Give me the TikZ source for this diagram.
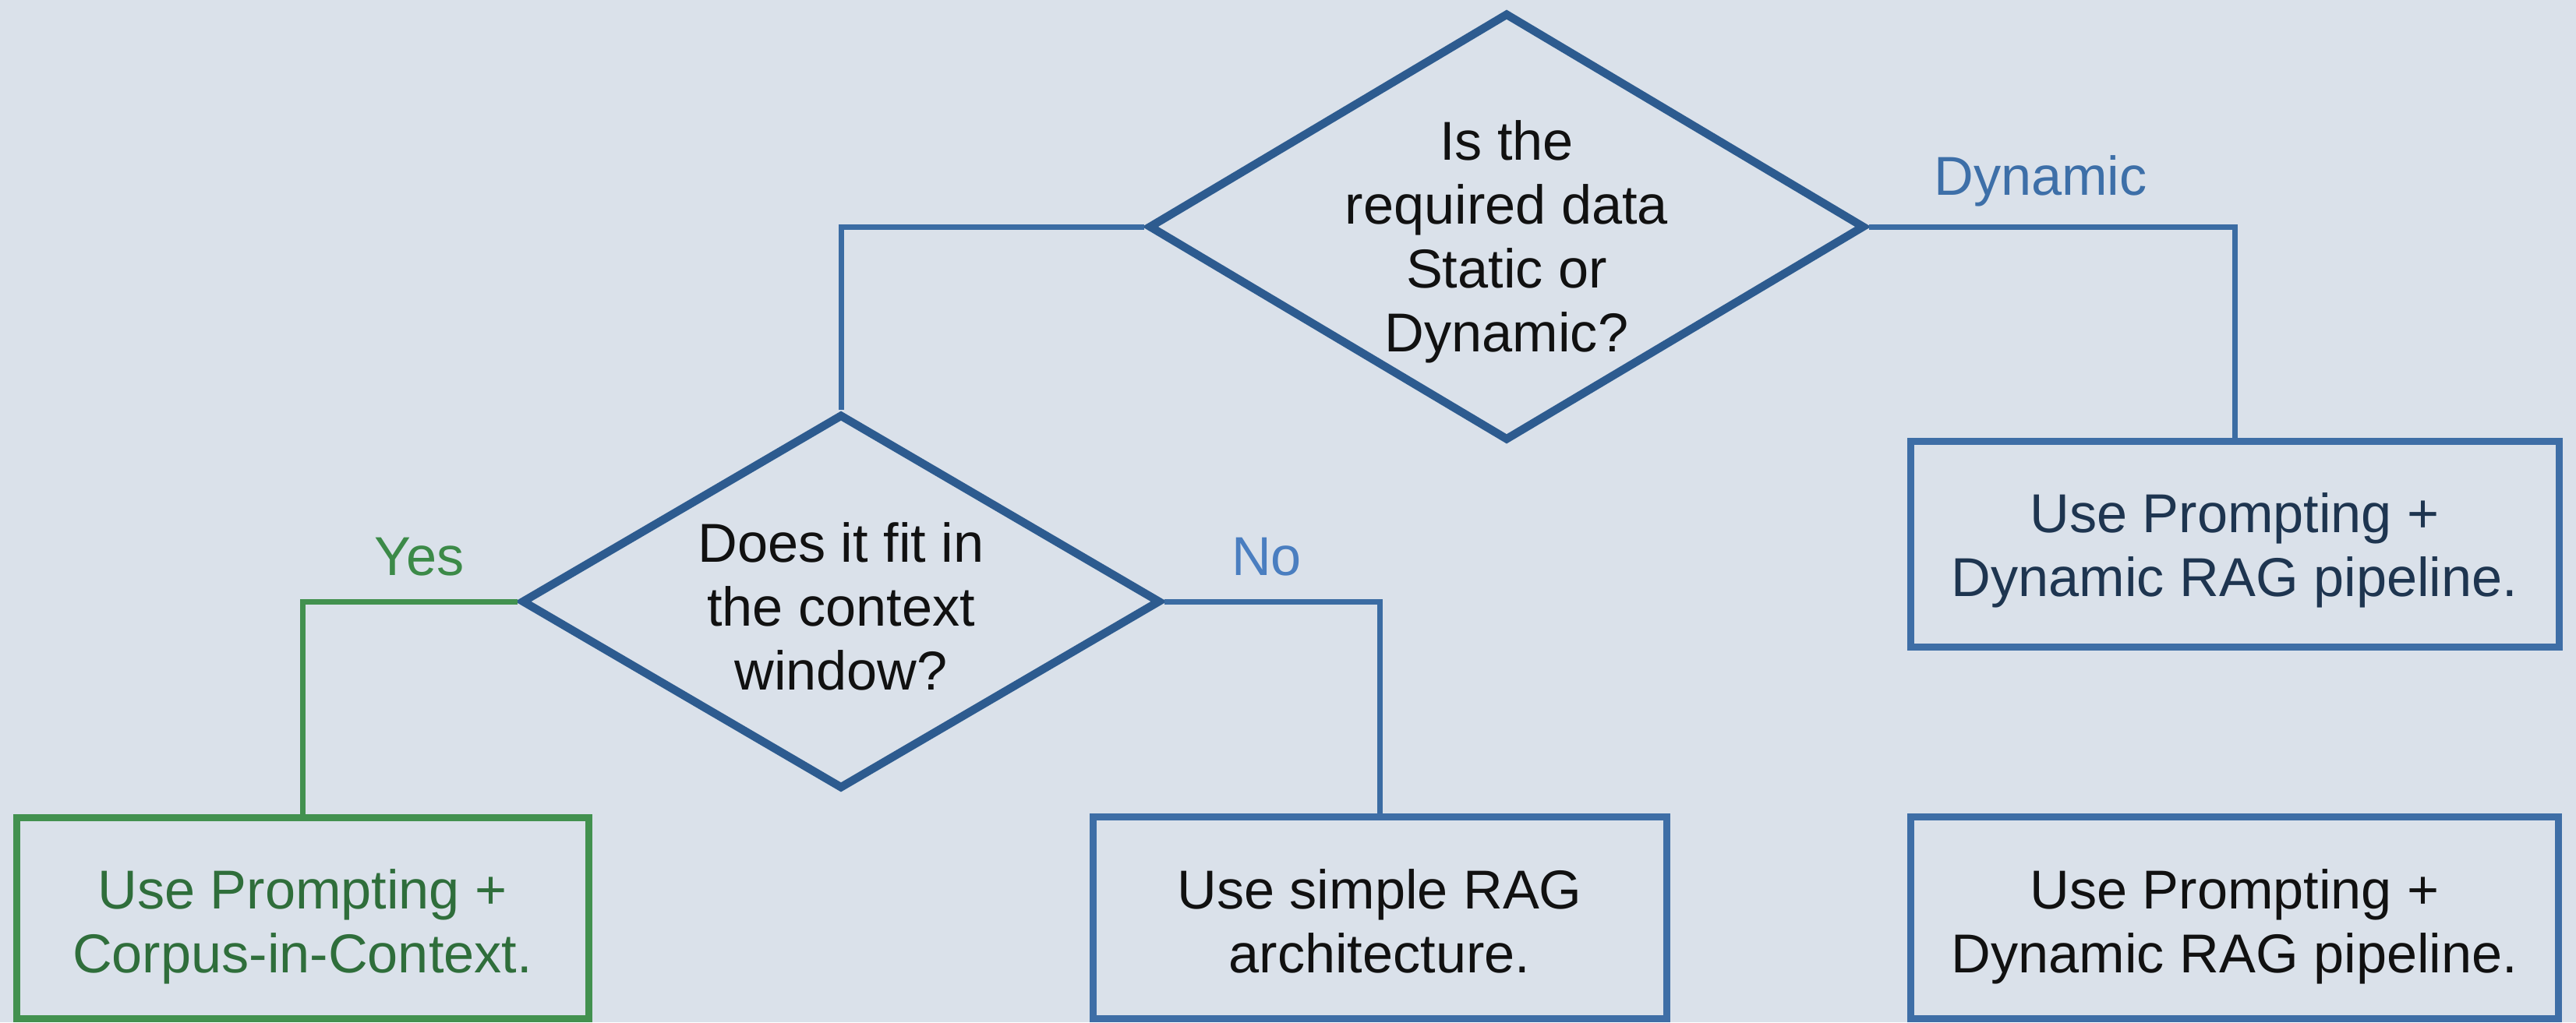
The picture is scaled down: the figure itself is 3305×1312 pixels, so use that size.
\documentclass[tikz,border=0pt]{standalone}
\usepackage{fontspec}
\setmainfont{Liberation Sans}
\usetikzlibrary{shapes.geometric}
\definecolor{bg}{HTML}{DAE1EA}
\definecolor{diaLine}{HTML}{2D5B8F}
\definecolor{boxLine}{HTML}{3E6EA6}
\definecolor{conLine}{HTML}{3B6CA3}
\definecolor{grnLine}{HTML}{42914F}
\definecolor{grnText}{HTML}{2F6E3B}
\definecolor{yesText}{HTML}{3C8A48}
\definecolor{dynText}{HTML}{3D6FA8}
\definecolor{noText}{HTML}{4A7EC0}
\definecolor{navyText}{HTML}{1E3550}
\definecolor{blkText}{HTML}{111111}
\tikzset{
  txt/.style={font=\fontsize{20}{23.3}\selectfont, align=center, inner sep=0pt},
  dia/.style={shape=diamond, draw=diaLine, line width=1.05mm, inner sep=0pt},
  boxnode/.style={shape=rectangle, draw=boxLine, line width=0.9mm, inner sep=0pt},
  grnbox/.style={boxnode, draw=grnLine},
  conn/.style={draw=conLine, line width=0.7mm},
  grnconn/.style={draw=grnLine, line width=0.7mm},
  lbl/.style={txt, anchor=base},
}
\begin{document}
\begin{tikzpicture}[x=0.1mm, y=-0.1mm]
\fill[bg] (0,0) rectangle (3305,1312);
\useasboundingbox (0,0) rectangle (3305,1312);

% decision diamonds
\node[dia, minimum width=91.9mm, minimum height=54.9mm] (q1) at (1933,291) {};
\node[txt, text=blkText] (q1t) at (1933,310) {Is the\\required data\\Static or\\Dynamic?};

\node[dia, minimum width=82mm, minimum height=48.1mm] (q2) at (1079,772) {};
\node[txt, text=blkText] (q2t) at (1079,778) {Does it fit in\\the context\\window?};

% result boxes
\node[boxnode, minimum width=83.2mm, minimum height=26.4mm] (dyn1) at (2867,698) {};
\node[txt, text=navyText] (dyn1t) at (2867,706) {Use Prompting +\\Dynamic RAG pipeline.};
\node[grnbox, minimum width=73.4mm, minimum height=25.8mm] (cic) at (388,1178) {};
\node[txt, text=grnText] (cict) at (388,1189) {Use Prompting +\\Corpus-in-Context.};
\node[boxnode, minimum width=73.6mm, minimum height=25.9mm] (rag) at (1770,1178) {};
\node[txt, text=blkText] (ragt) at (1770,1182) {Use simple RAG\\architecture.};
\node[boxnode, minimum width=83.1mm, minimum height=25.9mm] (dyn2) at (2867,1178) {};
\node[txt, text=blkText] (dyn2t) at (2867,1189) {Use Prompting +\\Dynamic RAG pipeline.};

% connectors
\draw[conn] (q1.west) -| (q2.north);
\draw[conn] (q1.east) -| (dyn1.north);
\draw[grnconn] (q2.west) -| (cic.north);
\draw[conn] (q2.east) -| (rag.north);

% branch labels
\node[lbl, text=dynText] (ldyn) at (2618,250) {Dynamic};
\node[lbl, text=yesText] (lyes) at (538,738) {Yes};
\node[lbl, text=noText] (lno) at (1625,738) {No};
\end{tikzpicture}
\end{document}
